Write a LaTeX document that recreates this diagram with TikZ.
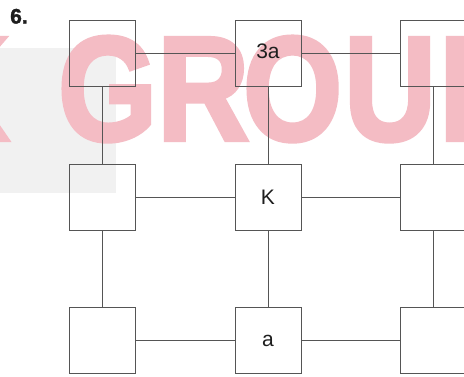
\documentclass[tikz,border=0pt]{standalone}
\usepackage{fontspec}
\setmainfont{Liberation Sans}
\newfontfamily\wmfont[FakeBold=3]{Liberation Sans Bold}
\newfontfamily\numfont[FakeBold=1.5]{Liberation Sans Bold}
\definecolor{wmpink}{RGB}{244,188,196}
\definecolor{wmgray}{RGB}{241,241,241}
\definecolor{boxline}{RGB}{85,85,85}
\definecolor{txt}{RGB}{30,30,30}
\begin{document}
\begin{tikzpicture}[x=1pt,y=-1pt,
  cell/.style={draw=boxline, line width=1pt, minimum width=66pt, minimum height=66pt, inner sep=0pt, text=txt, font=\fontsize{21}{21}\selectfont},
  link/.style={draw=boxline, line width=0.9pt},
  wm/.style={text=wmpink, inner sep=0pt, font=\fontsize{148}{148}\wmfont, xscale=0.86}]
\useasboundingbox (0,0) rectangle (464,376);
\fill[white] (0,0) rectangle (464,376);
% watermark background
\fill[wmgray] (0,48) rectangle (116,193);
\node[wm, anchor=base east] (wK) at (9,140) {K};
\node[wm, anchor=base west] (wG) at (58,140) {G};
\node[wm, anchor=base west] (wR) at (157,140) {R};
\node[wm, anchor=base west] (wO) at (243,140) {O};
\node[wm, anchor=base west] (wU) at (344,140) {U};
\node[wm, anchor=base west] (wP) at (439,140) {P};
% task number
\node[anchor=base west, inner sep=0pt, text=txt, font=\fontsize{21}{21}\numfont] (num) at (10,23.5) {6.};
% boxes
\node[cell] (a1) at (102,53) {};
\node[cell] (a2) at (268,53) {\raisebox{3pt}{3a}};
\node[cell] (a3) at (433,53) {};
\node[cell] (b1) at (102,197) {};
\node[cell] (b2) at (268,197) {K};
\node[cell] (b3) at (433,197) {};
\node[cell] (c1) at (102,340.5) {};
\node[cell] (c2) at (268,340.5) {a};
\node[cell] (c3) at (433,340.5) {};
% connectors
\draw[link] (a1) -- (a2);
\draw[link] (a2) -- (a3);
\draw[link] (b1) -- (b2);
\draw[link] (b2) -- (b3);
\draw[link] (c1) -- (c2);
\draw[link] (c2) -- (c3);
\draw[link] (a1) -- (b1);
\draw[link] (b1) -- (c1);
\draw[link] (a2) -- (b2);
\draw[link] (b2) -- (c2);
\draw[link] (a3) -- (b3);
\draw[link] (b3) -- (c3);
\end{tikzpicture}
\end{document}
